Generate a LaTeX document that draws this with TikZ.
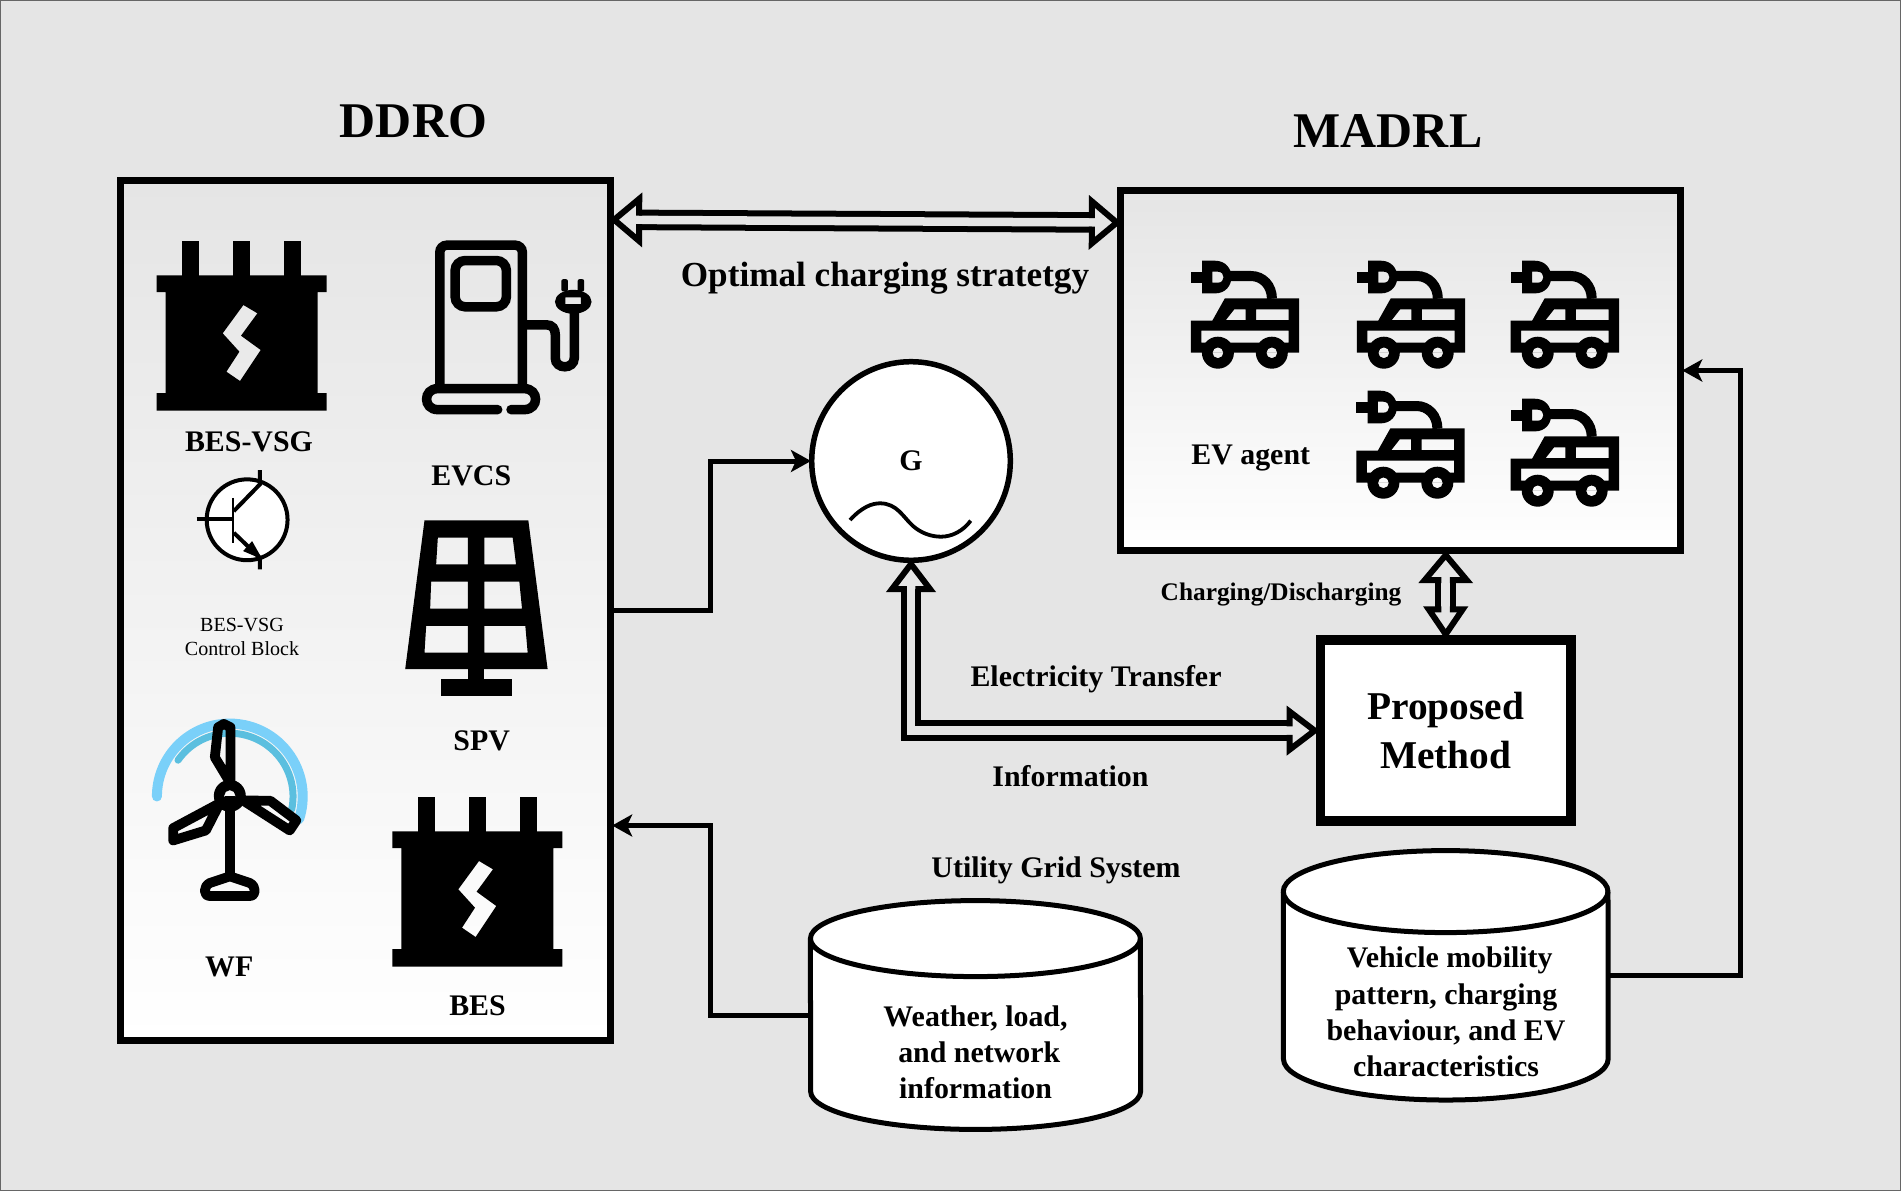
\documentclass[tikz,border=0pt]{standalone}
\usepackage{fontspec}
\setmainfont{Liberation Serif}
\usetikzlibrary{arrows.meta,calc}
\definecolor{pagebg}{HTML}{E5E5E5}
\definecolor{windblue}{HTML}{7AD0F9}
\definecolor{winddark}{HTML}{5BBFDF}
\tikzset{
	lbl/.style={font=\bfseries\fontsize{8.5}{10.3}\selectfont, inner sep=0pt, align=center},
	heading/.style={font=\bfseries\fontsize{14.2}{16}\selectfont, inner sep=0pt},
	panel/.style={draw, line width=0.07cm, top color=pagebg, bottom color=white, inner sep=0pt},
	store/.style={inner sep=0pt, outer sep=0pt},
	storeline/.style={line width=0.05cm},
	wire/.style={line width=0.05cm, shorten >=-0.02cm, -{Stealth[length=0.2cm,width=0.22cm,inset=0.05cm]}},
	flexshaft/.style={double=pagebg, double distance=0.085cm, line width=0.06cm, shorten <=0.26cm, shorten >=0.26cm},
	flexline/.style={line width=0.06cm, fill=pagebg},
	pics/batteryicon/.style={code={
		\fill (25.7,0) rectangle (42.3,36);
		\fill (76.7,0) rectangle (93.3,36);
		\fill (127.7,0) rectangle (144.3,36);
		\fill[even odd rule] (0,34.3) -- (170,34.3) -- (170,51) -- (161,51) -- (161,152) -- (170,152) -- (170,169.7) -- (0,169.7) -- (0,152) -- (9,152) -- (9,51) -- (0,51) -- cycle
			(86.7,64) -- (100.7,72.3) -- (84.3,94.7) -- (104,109) -- (83.3,140) -- (69.7,130.7) -- (82.7,110.7) -- (66,92.3) -- cycle;
	}},
	pics/evcar/.style={code={
		\fill (0,11) rectangle (12,22);
		\fill[even odd rule] (11.3,0) -- (24,0) .. controls (46,0) and (46,32.7) .. (24,32.7) -- (11.3,32.7) -- cycle
			(21.5,11) -- (27,11) .. controls (34.5,11) and (34.5,22) .. (27,22) -- (21.5,22) -- cycle;
		\draw[line width=0.1cm] (36,15.3) -- (60,15.3) .. controls (72,15.3) and (81,25) .. (81,38);
		\fill[even odd rule] (0,60) -- (21.4,60) -- (33.9,37.7) -- (108.3,37.7) -- (108.3,92) -- (0,92) -- cycle
			(35,59.3) -- (43.3,48.7) -- (54.6,48.7) -- (54.6,59.3) -- cycle
			(65.1,48.7) rectangle (97.8,59.3)
			(10.5,70) rectangle (97.8,82)
			(21.5,92) arc[start angle=180,end angle=360,radius=5.5] -- cycle
			(75.4,92) arc[start angle=180,end angle=360,radius=5.5] -- cycle;
		\fill[even odd rule] (27,92) circle[radius=16] (27,92) circle[radius=5.5];
		\fill[even odd rule] (80.9,92) circle[radius=16] (80.9,92) circle[radius=5.5];
	}}
}
\def\flexhead(#1)(#2)(#3){\draw[flexline,shift={(#1)},rotate=#2] (-26,4.25) -- (-26,#3) -- (-1,0) -- (-26,-#3) -- (-26,-4.25);}
\def\storebody(#1)(#2:#3){
	\draw[storeline, fill=white] ($(#1.north west)+(0,#3)$) arc[start angle=180,end angle=360,x radius=#2,y radius=#3] -- ($(#1.south east)+(0,-#3)$) arc[start angle=0,end angle=180,x radius=#2,y radius=#3] -- cycle;
	\draw[storeline] ($(#1.north west)+(0,#3)$) arc[start angle=180,end angle=0,x radius=#2,y radius=#3];
}

\begin{document}
\begin{tikzpicture}[x=0.01cm,y=-0.01cm]
	%%%%% PAGE %%%%%
	\useasboundingbox (0,0) rectangle (1901,1191);
	\draw[line width=0.01cm, draw=black!60, fill=pagebg] (0.5,0.5) rectangle (1900.5,1190.5);

	\node[panel, minimum width=4.9cm, minimum height=8.6cm] (ddro) at (365.5,610.5) {};
	\node[panel, minimum width=5.6cm, minimum height=3.6cm] (madrl) at (1400.5,370.5) {};
	\node[draw, fill=white, circle, line width=0.055cm, minimum size=1.985cm, inner sep=0pt, lbl] (gen) at (911,461) {G};
	\node[draw, fill=white, line width=0.095cm, minimum width=2.505cm, minimum height=1.81cm, inner sep=0pt, font=\bfseries\fontsize{11.2}{13.7}\selectfont, align=center] (prop) at (1445.7,730.6) {Proposed\\Method};

	\node[store, minimum width=3.3cm, minimum height=2.287cm] (weather) at (975.5,1015) {};
	\storebody(weather)(165:38)
	\node[store, minimum width=3.247cm, minimum height=2.493cm] (vehicle) at (1445.7,975.3) {};
	\storebody(vehicle)(162.35:41)

	\node[heading] (ddrotitle) at (413.4,121) {DDRO};
	\node[heading] (madrltitle) at (1388,131) {MADRL};
	\node[lbl, font=\bfseries\fontsize{10}{12}\selectfont] (optlabel) at (885,278.5) {Optimal charging stratetgy};
	\node[lbl] (beslabel) at (249,441.7) {BES-VSG};
	\node[lbl] (evcslabel) at (471.3,476) {EVCS};
	\node[inner sep=0pt, align=center, font=\fontsize{5.7}{6.8}\selectfont] (ctrllabel) at (242,637) {BES-VSG\\Control Block};
	\node[lbl] (spvlabel) at (481.7,740.7) {SPV};
	\node[lbl] (wflabel) at (229.3,966.7) {WF};
	\node[lbl] (bes2label) at (477.5,1006) {BES};
	\node[lbl] (agentlabel) at (1250.7,458) {EV agent};
	\node[lbl, font=\bfseries\fontsize{7.2}{9}\selectfont] (chglabel) at (1281,594) {Charging/Discharging};
	\node[lbl] (eleclabel) at (1096,679) {Electricity Transfer};
	\node[lbl] (infolabel) at (1070.5,776) {Information};
	\node[lbl] (gridlabel) at (1056,870) {Utility Grid System};
	\node[lbl] (weatherlabel) at (975.5,1052) {Weather, load,\\~and network\\information};
	\node[lbl] (vehiclelabel) at (1446,1012) {~Vehicle mobility\\pattern, charging\\behaviour, and EV\\characteristics};

	%%%%% CONNECTORS %%%%%
	\draw[wire] (ddro.east) -- ++(96.5,0) |- (gen.west);
	\draw[wire] (weather.west) -- ++(-100,0) |- ($(ddro.east)+(0,215)$);
	\draw[wire] (vehicle.east) -- ++(132.5,0) |- (madrl.east);

	\coordinate (optleft) at ($(ddro.north east)+(-1,43)$);
	\coordinate (optright) at ($(madrl.north west)+(1,35.7)$);
	\draw[flexshaft] (optleft) -- (optright);
	\flexhead(optleft)(179.7)(21)
	\flexhead(optright)(-0.3)(21)

	\draw[flexshaft] (prop.north) -- (prop.north |- madrl.south);
	\flexhead(prop.north |- madrl.south)(90)(21)
	\flexhead(prop.north)(270)(17)

	\draw[flexshaft] (gen.south) |- (prop.west);
	\flexhead(gen.south)(90)(19)
	\flexhead(prop.west)(0)(19)

	%%%%% GENERATOR WAVE %%%%%
	\draw[line width=0.038cm] (850,520) .. controls (862,507) and (872,503.3) .. (880,503.3) .. controls (897,503.3) and (903,517) .. (913,526) .. controls (921,533) and (931,536.7) .. (941,536.7) .. controls (952,536.7) and (963,531) .. (970.7,520.7);

	%%%%% ICONS %%%%%
	\pic at (156.7,241) {batteryicon};
	\pic at (392.3,797) {batteryicon};

	\pic at (1190.9,260.7) {evcar};
	\pic at (1356.8,260.7) {evcar};
	\pic at (1510.7,260.7) {evcar};
	\pic at (1356.4,390.7) {evcar};
	\pic at (1510.7,398.7) {evcar};

	% charging station, transistor and panel
	\begin{scope}[shift={(110,170)},x=0.003333cm,y=-0.003333cm]
		\draw[line width=0.095cm, rounded corners=0.07cm] (991,650) -- (991,226) -- (1239,226) -- (1239,650);
		\draw[line width=0.095cm, rounded corners=0.1cm] (1037,272) rectangle (1191,411);
		\draw[line width=0.095cm, line cap=round] (1165,720) -- (985,720) .. controls (940,720) and (940,657) .. (985,657) -- (1245,657) .. controls (1290,657) and (1290,720) .. (1245,720) -- (1205,720);
		\draw[line width=0.095cm] (1239,465) -- (1310,465) .. controls (1330,465) and (1338,478) .. (1338,495) -- (1338,565) .. controls (1338,600) and (1395,600) .. (1395,565) -- (1395,420);
		\fill[even odd rule] (1392,396) ellipse[x radius=55,y radius=36] (1368,383) rectangle (1415,403);
		\fill[rounded corners=0.02cm] (1356,328) rectangle (1376,365);
		\fill[rounded corners=0.02cm] (1405,328) rectangle (1425,365);

		\draw[line width=0.04cm, fill=white] (412,1051) circle[radius=121.5];
		\draw[line width=0.04cm] (260,1050) -- (370,1050);
		\draw[line width=0.02cm] (370,985) -- (370,1120);
		\draw[line width=0.04cm] (372,1025) -- (450,945) -- (450,902);
		\draw[line width=0.04cm] (372,1090) -- (450,1165) -- (450,1200);
		\fill (458,1170) -- (427,1115) -- (400,1145) -- cycle;

		\fill[even odd rule] (945,1053) -- (1257,1053) -- (1315,1500) -- (887,1500) -- cycle
			(985,1105) -- (1075,1105) -- (1075,1185) -- (980,1185) -- cycle
			(1125,1105) -- (1210,1105) -- (1220,1185) -- (1125,1185) -- cycle
			(965,1237) -- (1075,1237) -- (1075,1318) -- (962,1318) -- cycle
			(1125,1237) -- (1230,1237) -- (1238,1318) -- (1125,1318) -- cycle
			(950,1370) -- (1075,1370) -- (1075,1450) -- (945,1450) -- cycle
			(1125,1370) -- (1248,1370) -- (1255,1450) -- (1125,1450) -- cycle;
		\fill (1075,1499) rectangle (1125,1531);
		\fill (995,1530) rectangle (1207,1581);
	\end{scope}

	% wind farm
	\begin{scope}[shift={(110,670)},x=0.003333cm,y=-0.003333cm]
		\draw[windblue, line width=0.1cm, line cap=round] (141,380) arc[start angle=180,end angle=378,radius=219];
		\draw[winddark, line width=0.07cm, line cap=round] (204.4,271) arc[start angle=215,end angle=372,radius=190];
		\draw[line width=0.095cm] (360,378) -- (360,615);
		\begin{scope}[line width=0.098cm, line join=round]
			\draw (325,172) -- (342,162) -- (362,172) -- (362,340) -- (315,262) -- cycle;
			\draw (400,392) -- (482,393) -- (560,452) -- (540,482) -- cycle;
			\draw (330,400) -- (190,475) -- (190,512) -- (288,482) -- cycle;
			\draw (360,620) -- (420,640) .. controls (440,650) and (440,679) .. (420,679) -- (300,679) .. controls (280,679) and (280,650) .. (300,640) -- cycle;
		\end{scope}
		\fill[even odd rule] (360,378) circle[radius=48] (360,378) circle[radius=17];
	\end{scope}
\end{tikzpicture}
\end{document}
